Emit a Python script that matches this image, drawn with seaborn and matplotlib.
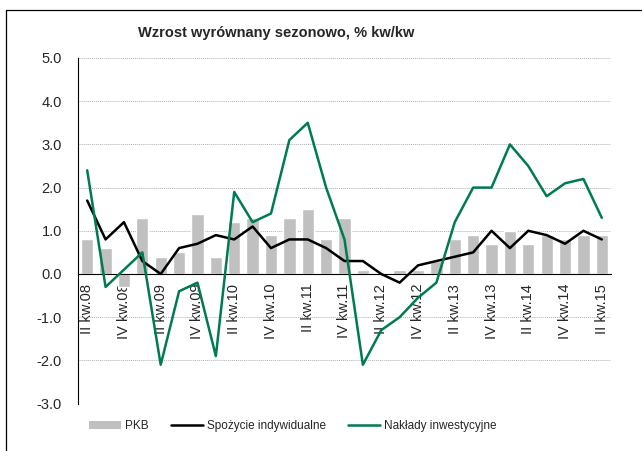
import numpy as np
import pandas as pd
import matplotlib
matplotlib.use("Agg")
import matplotlib.pyplot as plt
from matplotlib.lines import Line2D
from matplotlib.patches import Patch
import seaborn as sns

quarters = ["II kw.08", "III kw.08", "IV kw.08",
            "I kw.09", "II kw.09", "III kw.09", "IV kw.09",
            "I kw.10", "II kw.10", "III kw.10", "IV kw.10",
            "I kw.11", "II kw.11", "III kw.11", "IV kw.11",
            "I kw.12", "II kw.12", "III kw.12", "IV kw.12",
            "I kw.13", "II kw.13", "III kw.13", "IV kw.13",
            "I kw.14", "II kw.14", "III kw.14", "IV kw.14",
            "I kw.15", "II kw.15"]
pkb = [0.8, 0.6, -0.3, 1.3, 0.4, 0.5, 1.4, 0.4, 1.2, 1.3, 0.9, 1.3, 1.5, 0.8, 1.3,
       0.1, 0.0, 0.1, 0.1, 0.3, 0.8, 0.9, 0.7, 1.0, 0.7, 0.9, 0.8, 0.9, 0.9]
spozycie = [1.7, 0.8, 1.2, 0.3, 0.0, 0.6, 0.7, 0.9, 0.8, 1.1, 0.6, 0.8, 0.8, 0.6, 0.3,
            0.3, 0.0, -0.2, 0.2, 0.3, 0.4, 0.5, 1.0, 0.6, 1.0, 0.9, 0.7, 1.0, 0.8]
naklady = [2.4, -0.3, 0.1, 0.5, -2.1, -0.4, -0.2, -1.9, 1.9, 1.2, 1.4, 3.1, 3.5, 2.0, 0.8,
           -2.1, -1.3, -1.0, -0.55, -0.2, 1.2, 2.0, 2.0, 3.0, 2.5, 1.8, 2.1, 2.2, 1.3]
title = "Wzrost wyrównany sezonowo, % kw/kw"
legend_labels = ["PKB", "Spożycie indywidualne", "Nakłady inwestycyjne"]

sns.set_style("white")
plt.rcParams['font.family'] = ['Liberation Sans', 'DejaVu Sans']

df = pd.DataFrame({"kw": quarters, "x": np.arange(len(quarters)),
                   "pkb": pkb, "spozycie": spozycie, "naklady": naklady})

GRAY = "#c0c0c0"
GREEN = "#007a55"

fig = plt.figure(figsize=(6.42, 4.51), dpi=100)
ax = fig.add_axes([0.1215, 0.1051, 0.9517 - 0.1215, 0.8714 - 0.1051])

sns.barplot(data=df, x="x", y="pkb", color=GRAY, width=0.67, ax=ax,
            saturation=1, zorder=2)
sns.lineplot(data=df, x="x", y="spozycie", color="black", lw=1.8, ax=ax, zorder=3)
sns.lineplot(data=df, x="x", y="naklady", color=GREEN, lw=1.8, ax=ax, zorder=4)

n = len(quarters)
ax.set_xlim(-0.5, n - 0.5)
ax.set_ylim(-3, 5)
yt = np.arange(-3, 6, 1)
ax.set_yticks(yt)
ax.set_yticklabels([f"{v:.1f}" for v in yt])
ax.yaxis.grid(True, color="#b0b0b0", linestyle=(0, (1, 1)), linewidth=0.7, zorder=0)
ax.set_axisbelow(True)

ax.set_xticks(np.arange(0, n, 2))
ax.set_xticklabels(quarters[::2])
ax.set_xticks(np.arange(-0.5, n, 1), minor=True)
ax.tick_params(axis="x", which="major", length=0, pad=7, labelsize=10.5, labelrotation=90)
ax.tick_params(axis="x", which="minor", length=4, width=0.8, direction="out", color="black")
ax.tick_params(axis="y", length=4.5, width=0.8, direction="out", color="black", pad=7,
               labelsize=10.5)
for lab in ax.get_xticklabels():
    lab.set_verticalalignment("top")

for s in ["top", "right"]:
    ax.spines[s].set_visible(False)
ax.spines["bottom"].set_position(("data", 0))
ax.spines["bottom"].set_color("black")
ax.spines["bottom"].set_linewidth(0.8)
ax.spines["left"].set_color("black")
ax.spines["left"].set_linewidth(0.8)
ax.set_xlabel("")
ax.set_ylabel("")

fig.text(0.43, 0.926, title, ha="center", va="center", fontsize=10.5, fontweight="bold")

handles = [Patch(facecolor=GRAY, edgecolor="none"),
           Line2D([], [], color="black", lw=1.8),
           Line2D([], [], color=GREEN, lw=1.8)]
fig.legend(handles, legend_labels, loc="center", bbox_to_anchor=(0.456, 0.055), ncol=3,
           frameon=False, fontsize=8.5, handlelength=2.7, handleheight=0.7,
           columnspacing=1.86, handletextpad=0.34, borderpad=0, borderaxespad=0)

# frame lines (top and left)
fig.add_artist(Line2D([0.0093, 1.0], [0.978, 0.978], color="black", lw=0.9, transform=fig.transFigure))
fig.add_artist(Line2D([0.0093, 0.0093], [0.0, 0.978], color="black", lw=0.9, transform=fig.transFigure))

fig.savefig("out.png", dpi=100)
